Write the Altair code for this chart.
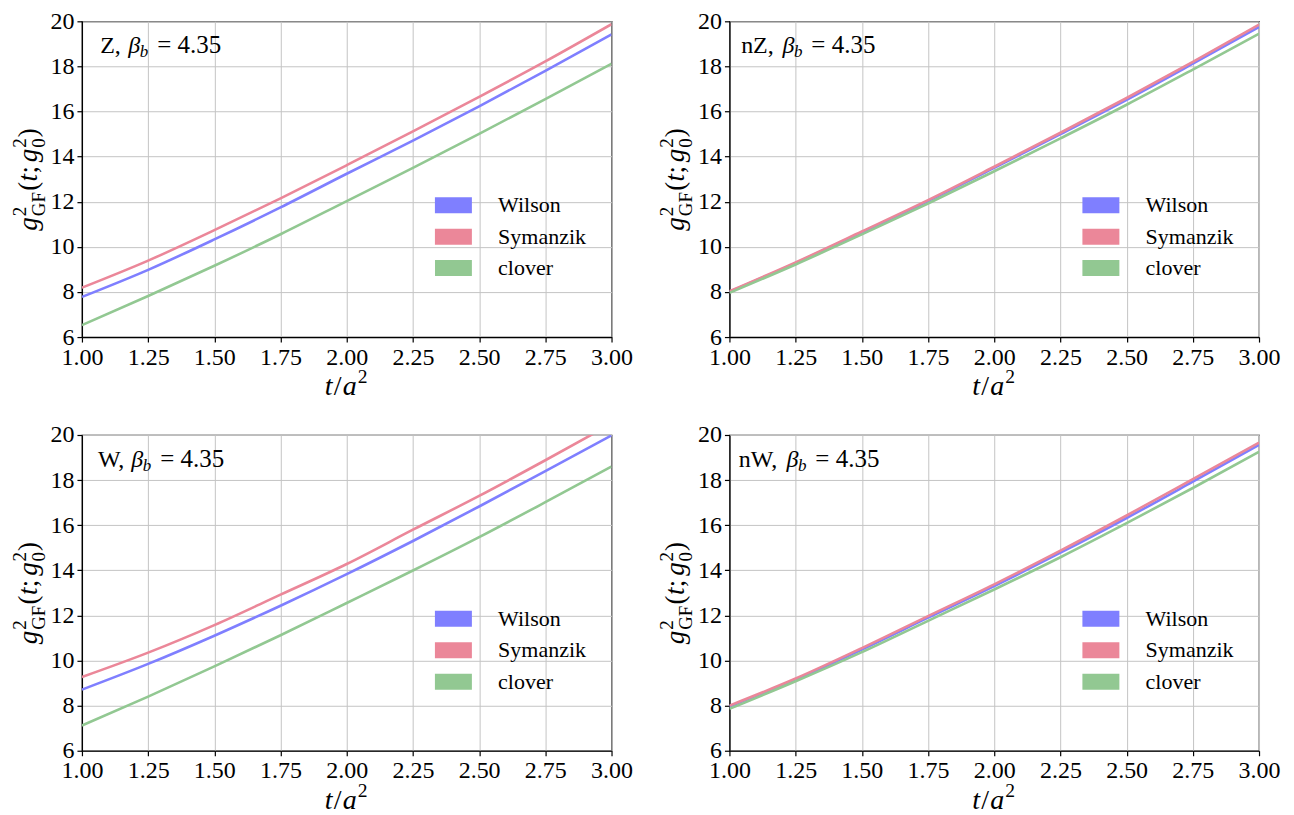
import altair as alt
import pandas as pd

# ---------------- data ----------------
t_vals = [1.0, 1.25, 1.5, 1.75, 2.0, 2.25, 2.5, 2.75, 3.0]
series_names = ["Wilson", "Symanzik", "clover"]
series_colors = ["#7f7fff", "#eb8799", "#92c892"]
panel_names = ["Z", "nZ", "W", "nW"]

z_wilson = [7.78, 8.98, 10.33, 11.75, 13.24, 14.71, 16.23, 17.80, 19.42]
z_symanzik = [8.19, 9.39, 10.74, 12.15, 13.62, 15.12, 16.65, 18.22, 19.87]
z_clover = [6.53, 7.82, 9.16, 10.56, 12.03, 13.50, 15.01, 16.55, 18.12]

nz_wilson = [8.00, 9.28, 10.64, 12.03, 13.50, 15.00, 16.52, 18.12, 19.75]
nz_symanzik = [8.03, 9.31, 10.68, 12.07, 13.55, 15.06, 16.60, 18.20, 19.85]
nz_clover = [7.96, 9.22, 10.55, 11.92, 13.35, 14.81, 16.30, 17.86, 19.45]

w_wilson = [8.71, 9.85, 11.10, 12.43, 13.83, 15.30, 16.83, 18.40, 19.98]
w_symanzik = [9.27, 10.35, 11.57, 12.92, 14.28, 15.80, 17.30, 18.88, 20.50]
w_clover = [7.12, 8.40, 9.74, 11.12, 12.55, 13.99, 15.47, 17.02, 18.60]

nw_wilson = [7.96, 9.16, 10.49, 11.90, 13.30, 14.78, 16.32, 17.93, 19.56]
nw_symanzik = [8.00, 9.20, 10.55, 11.97, 13.38, 14.87, 16.43, 18.04, 19.66]
nw_clover = [7.86, 9.08, 10.37, 11.76, 13.15, 14.58, 16.09, 17.65, 19.26]

panel_series = {
    "Z": [z_wilson, z_symanzik, z_clover],
    "nZ": [nz_wilson, nz_symanzik, nz_clover],
    "W": [w_wilson, w_symanzik, w_clover],
    "nW": [nw_wilson, nw_symanzik, nw_clover],
}

x_ticks = [1.0, 1.25, 1.5, 1.75, 2.0, 2.25, 2.5, 2.75, 3.0]
y_ticks = [6, 8, 10, 12, 14, 16, 18, 20]
beta_value = "4.35"

# ---------------- layout / style ----------------
FONT = "Liberation Serif"
W, H = 530, 316
# start of panel label text and of beta glyph (relative to plot left)
label_pos = {"Z": (18.3, 46.3), "nZ": (11.7, 53.0), "W": (16.0, 49.4), "nW": (9.4, 57.0)}


def text_layer(txt, x, y, size, style="normal", angle=0):
    kw = dict(text=txt, font=FONT, fontSize=size, fontStyle=style, color="black",
              align="left", baseline="alphabetic")
    if angle:
        kw["angle"] = angle
    return alt.Chart(pd.DataFrame({"k": [0]})).mark_text(**kw).encode(
        x=alt.value(x), y=alt.value(y))


def y_title_layers():
    F = 27
    s = 0.7 * F
    X0 = -45
    pieces = [
        ("g", 0.0, 0.0, F, "italic"),
        ("2", 14.5, -0.42 * F, s, "normal"),
        ("GF", 14.5, 0.28 * F, s, "normal"),
        ("(", 39.8, 0.0, F, "normal"),
        ("t", 49.3, 0.0, F, "italic"),
        (";", 57.1, 0.0, F, "normal"),
        ("g", 68.5, 0.0, F, "italic"),
        ("2", 83.0, -0.42 * F, s, "normal"),
        ("0", 83.0, 0.28 * F, s, "normal"),
        (")", 93.5, 0.0, F, "normal"),
    ]
    L = 103
    Y0 = H / 2 + L / 2
    return [text_layer(t, X0 + p, Y0 - a, sz, st, angle=270) for (t, a, p, sz, st) in pieces]


def x_title_layers():
    F = 28
    Yb = H + 58
    c = W / 2
    pieces = [
        ("t", -22, 0, F, "italic"),
        ("/", -13, 0, F, "normal"),
        ("a", -4, 0, F, "italic"),
        ("2", 11, -12, 0.7 * F, "normal"),
    ]
    return [text_layer(t, c + a, Yb + p, sz, st) for (t, a, p, sz, st) in pieces]


def annot_layers(name):
    x0, xb = label_pos[name]
    yb = 32
    return [
        text_layer(name + ",", x0, yb, 24),
        text_layer("β", xb, yb, 24, "italic"),
        text_layer("b", xb + 11.5, yb + 4, 17, "italic"),
        text_layer("= " + beta_value, xb + 29, yb, 25),
    ]


def panel(name):
    rows = []
    for s, vals in zip(series_names, panel_series[name]):
        for t, g in zip(t_vals, vals):
            rows.append({"series": s, "t": t, "g": g})
    df = pd.DataFrame(rows)
    x = alt.X("t:Q", scale=alt.Scale(domain=[1, 3], nice=False, zero=False),
              axis=alt.Axis(values=x_ticks, format=".2f", title=None, labelFlush=False,
                            labelOverlap=False))
    y = alt.Y("g:Q", scale=alt.Scale(domain=[6, 20], nice=False, zero=False),
              axis=alt.Axis(values=y_ticks, format="d", title=None, labelOverlap=False))
    color = alt.Color(
        "series:N",
        scale=alt.Scale(domain=series_names, range=series_colors),
        legend=alt.Legend(title=None, orient="none", legendX=353.25, legendY=172,
                          symbolType="M-4,0L4,0", symbolSize=132.25, symbolStrokeWidth=16,
                          clipHeight=24, rowPadding=7.5, labelFontSize=22, labelFont=FONT,
                          labelColor="black", labelOffset=35.25, padding=0),
    )
    lines = [
        alt.Chart(df).transform_filter(alt.datum.series == s)
        .mark_line(clip=True, interpolate="monotone")
        .encode(x=x, y=y, color=color, strokeWidth=alt.value(2.6))
        for s in series_names
    ]
    layers = lines + annot_layers(name) + y_title_layers() + x_title_layers()
    return alt.layer(*layers).properties(width=W, height=H)


chart = (
    alt.concat(*[panel(n) for n in panel_names], columns=2,
               spacing={"row": 98, "column": 118}, bounds="flush")
    .resolve_scale(color="independent")
    .properties(padding={"left": 2, "top": 0, "right": 5, "bottom": 5})
    .configure(font=FONT)
    .configure_view(stroke="black", strokeWidth=1.2)
    .configure_axis(labelFont=FONT, labelFontSize=24, labelColor="black",
                    tickColor="black", domainColor="black", domainWidth=1.2,
                    tickSize=5, tickWidth=1.2, labelPadding=3,
                    grid=True, gridColor="#c4c4c4", gridWidth=1)
)

chart.save("out.html", embed_options={"renderer": "svg", "actions": False})
